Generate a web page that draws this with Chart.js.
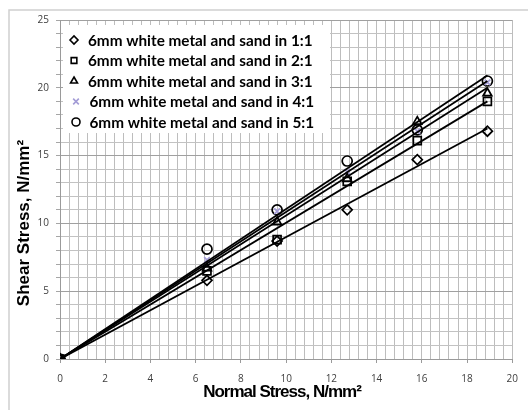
<!DOCTYPE html>
<html>
<head>
<meta charset="utf-8">
<title>Shear vs normal stress</title>
<script src="https://cdn.jsdelivr.net/npm/chart.js@4.4.1/dist/chart.umd.min.js"></script>
<style>
    html, body { margin: 0; padding: 0; background: #fff; }
    #wrap { width: 528px; height: 410px; }
</style>
</head>
<body>
<div id="wrap"><canvas id="shearChart" width="528" height="410"></canvas></div>
<script>
// Normal stress applied in each test (N/mm2)
const NORMAL_STRESS = [0, 6.5, 9.6, 12.7, 15.8, 18.9];

// Measured shear stress for each mix ratio (N/mm2)
const SHEAR_1_1 = [0, 5.8, 8.7, 11.0, 14.7, 16.8];
const SHEAR_2_1 = [0, 6.5, 8.8, 13.1, 16.1, 19.0];
const SHEAR_3_1 = [0, 6.7, 10.1, 13.3, 17.5, 19.6];
const SHEAR_4_1 = [0, 7.3, 10.9, 13.8, 16.8, 20.4];
const SHEAR_5_1 = [0, 8.1, 11.0, 14.6, 16.9, 20.5];

const SERIES_LABELS = [
    "6mm white metal and sand in 1:1",
    "6mm white metal and sand in 2:1",
    "6mm white metal and sand in 3:1",
    "6mm white metal and sand in 4:1",
    "6mm white metal and sand in 5:1"
];

// Linear trendlines through the origin: value reached at the last normal stress
const TREND_END = [17.0, 19.0, 20.0, 20.5, 20.9];

const SERIES_VALUES = [SHEAR_1_1, SHEAR_2_1, SHEAR_3_1, SHEAR_4_1, SHEAR_5_1];
const SERIES_STYLE = [
    { pointStyle: "rectRot", radius: 5, color: "#000" },
    { pointStyle: "rect", radius: 5.6, color: "#000" },
    { pointStyle: "triangle", radius: 5, color: "#000" },
    { pointStyle: "crossRot", radius: 4, color: "#a39cd6" },
    { pointStyle: "circle", radius: 5, color: "#000" }
];

const TICK_FONT = { family: "'Open Sans', 'DejaVu Sans', sans-serif", size: 10 };

function isMultiple(v, step) {
    const q = v / step;
    return Math.abs(q - Math.round(q)) < 1e-6;
}

function toPoints(values) {
    return values.map((y, i) => ({ x: NORMAL_STRESS[i], y: y }));
}

const lastX = NORMAL_STRESS[NORMAL_STRESS.length - 1];

const datasets = [];
SERIES_VALUES.forEach((values, i) => {
    const st = SERIES_STYLE[i];
    datasets.push({
        type: "scatter",
        label: SERIES_LABELS[i],
        data: toPoints(values),
        pointStyle: st.pointStyle,
        pointRadius: st.radius,
        pointHoverRadius: st.radius,
        pointBorderWidth: 1.7,
        pointBorderColor: st.color,
        pointBackgroundColor: "rgba(0,0,0,0)",
        showLine: false,
        order: 1
    });
});
TREND_END.forEach((end, i) => {
    datasets.push({
        type: "line",
        label: "trend " + (i + 1),
        data: [{ x: 0, y: 0 }, { x: lastX, y: end }],
        borderColor: "#000",
        borderWidth: 1.8,
        pointRadius: 0,
        fill: false,
        order: 0
    });
});

// white background and the outer frame
const framePlugin = {
    id: "frame",
    beforeDraw(chart) {
        const ctx = chart.ctx;
        ctx.save();
        ctx.fillStyle = "#fff";
        ctx.fillRect(0, 0, chart.width, chart.height);
        ctx.strokeStyle = "#cfcfcf";
        ctx.lineWidth = 1.5;
        ctx.strokeRect(9, 10, chart.width + 20, chart.height + 20);
        ctx.restore();
    }
};

// legend box in the upper left of the plot
const legendPlugin = {
    id: "insideLegend",
    afterDatasetsDraw(chart) {
        const ctx = chart.ctx;
        const area = chart.chartArea;
        const boxLeft = area.left + 3;
        const boxTop = area.top + 5;
        ctx.save();
        ctx.fillStyle = "#fff";
        ctx.fillRect(boxLeft, boxTop, 267, 108);
        ctx.font = "bold 15.3px Lato, 'Open Sans', sans-serif";
        ctx.textBaseline = "middle";
        ctx.textAlign = "left";
        SERIES_LABELS.forEach((label, i) => {
            const st = SERIES_STYLE[i];
            const y = boxTop + 15 + i * 20.5;
            ctx.strokeStyle = st.color;
            ctx.fillStyle = "rgba(0,0,0,0)";
            ctx.lineWidth = 1.6;
            Chart.helpers.drawPoint(ctx, {
                pointStyle: st.pointStyle,
                radius: 4,
                rotation: 0,
                borderWidth: 1.6
            }, boxLeft + 11 + (i > 2 ? 2 : 0), y);
            ctx.fillStyle = "#000";
            ctx.fillText(label, boxLeft + 25 + (i > 2 ? 1.5 : 0), y + 1);
        });
        ctx.restore();
    }
};

// axis titles
const titlePlugin = {
    id: "axisTitles",
    afterDraw(chart) {
        const ctx = chart.ctx;
        ctx.save();
        ctx.fillStyle = "#000";
        ctx.textAlign = "center";
        ctx.textBaseline = "middle";
        ctx.font = "bold 17px 'Liberation Sans', Arial, sans-serif";
        ctx.translate(24, 223);
        ctx.rotate(-Math.PI / 2);
        ctx.fillText("Shear Stress, N/mm²", 0, 0);
        ctx.restore();

        ctx.save();
        ctx.fillStyle = "#000";
        ctx.textAlign = "center";
        ctx.textBaseline = "middle";
        ctx.font = "bold 17px 'Liberation Sans', Arial, sans-serif";
        ctx.letterSpacing = "-1px";
        ctx.fillText("Normal Stress, N/mm²", 282, 392);
        ctx.restore();
    }
};

const ctx = document.getElementById("shearChart").getContext("2d");
const shearChart = new Chart(ctx, {
    type: "scatter",
    data: { datasets: datasets },
    options: {
        responsive: false,
        animation: false,
        layout: { padding: { top: 20, right: 6, left: 0, bottom: 0 } },
        plugins: {
            legend: { display: false },
            tooltip: { enabled: false }
        },
        scales: {
            x: {
                type: "linear",
                position: "bottom",
                min: 0,
                max: 20,
                afterFit: s => { s.height = 51; },
                ticks: {
                    stepSize: 0.4,
                    autoSkip: false,
                    maxRotation: 0,
                    padding: 10,
                    color: "#404040",
                    font: TICK_FONT,
                    callback: v => isMultiple(v, 2) ? String(Math.round(v)) : ""
                },
                grid: {
                    color: "#bdbdbd",
                    lineWidth: 1,
                    tickLength: 4,
                    tickColor: c => (c.tick && isMultiple(c.tick.value, 2)) ? "#9a9a9a" : "rgba(0,0,0,0)"
                },
                border: { color: "#9a9a9a" }
            },
            y: {
                type: "linear",
                min: 0,
                max: 25,
                afterFit: s => { s.width = 60; },
                ticks: {
                    stepSize: 1,
                    autoSkip: false,
                    padding: 7,
                    color: "#404040",
                    font: TICK_FONT,
                    callback: v => isMultiple(v, 5) ? String(Math.round(v)) : ""
                },
                grid: {
                    color: c => (c.tick && isMultiple(c.tick.value, 5)) ? "#a0a0a0" : "#c2c2c2",
                    lineWidth: 1,
                    tickLength: 4,
                    tickColor: "#a6a6a6"
                },
                border: { color: "#9a9a9a" }
            }
        }
    },
    plugins: [framePlugin, legendPlugin, titlePlugin]
});
</script>
</body>
</html>
